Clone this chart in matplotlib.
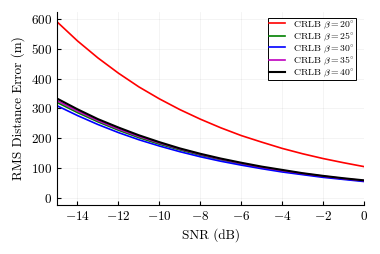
import numpy as np
import matplotlib
matplotlib.use("Agg")
import matplotlib.pyplot as plt

plt.rcParams.update({
    'font.family': 'serif',
    'font.serif': ['cmr10', 'DejaVu Serif'],
    'mathtext.fontset': 'cm',
    'axes.formatter.use_mathtext': True,
    'axes.unicode_minus': True,
})

snr_db = [-15, -14, -13, -12, -11, -10, -9, -8, -7, -6, -5, -4, -3, -2, -1, 0]

# RMS distance error (m), one list per beta
err_20 = [590, 526, 469, 418, 372, 332, 296, 264, 235, 209, 187, 166, 148, 132, 118, 105]
err_25 = [320, 286, 255, 227, 202, 180, 161, 143, 128, 114, 101, 90, 80, 72, 64, 57]
err_30 = [309, 276, 246, 219, 195, 174, 155, 138, 123, 110, 98, 87, 78, 69, 62, 55]
err_35 = [326, 291, 259, 231, 206, 184, 164, 146, 130, 116, 103, 92, 82, 73, 65, 58]
err_40 = [333, 297, 264, 236, 210, 187, 166, 148, 132, 118, 105, 94, 83, 74, 66, 59]

series = [
    (err_20, 'red', r'CRLB $\beta = 20^{\circ}$'),
    (err_25, 'green', r'CRLB $\beta = 25^{\circ}$'),
    (err_30, 'blue', r'CRLB $\beta = 30^{\circ}$'),
    (err_35, 'm', r'CRLB $\beta = 35^{\circ}$'),
    (err_40, 'black', r'CRLB $\beta = 40^{\circ}$'),
]

fig = plt.figure(figsize=(3.8, 2.54), dpi=100)
ax = fig.add_axes([0.15, 0.193, 0.808, 0.76])

for y, c, lab in series:
    ax.plot(snr_db, y, color=c, lw=1.5 if c == 'black' else 1.2, label=lab)

ax.set_xlim(-15, 0)
ax.set_ylim(-23.5, 623)
ax.set_xticks([-14, -12, -10, -8, -6, -4, -2, 0])
ax.set_yticks([0, 100, 200, 300, 400, 500, 600])
ax.tick_params(direction='in', length=3, width=0.8, labelsize=9.5)
ax.spines['top'].set_visible(False)
ax.spines['right'].set_visible(False)
ax.grid(True, color='0.5', alpha=0.1, lw=0.6)
ax.set_xlabel('SNR (dB)', fontsize=9.5)
ax.set_ylabel('RMS Distance Error (m)', fontsize=9.5)

leg = ax.legend(loc='upper right', fontsize=7, fancybox=False, framealpha=1,
                edgecolor='black', handlelength=1.6, borderpad=0.15,
                labelspacing=0.0, handletextpad=0.8,
                bbox_to_anchor=(0.99, 0.995))
leg.get_frame().set_linewidth(0.7)

fig.savefig('out.png', dpi=100)
